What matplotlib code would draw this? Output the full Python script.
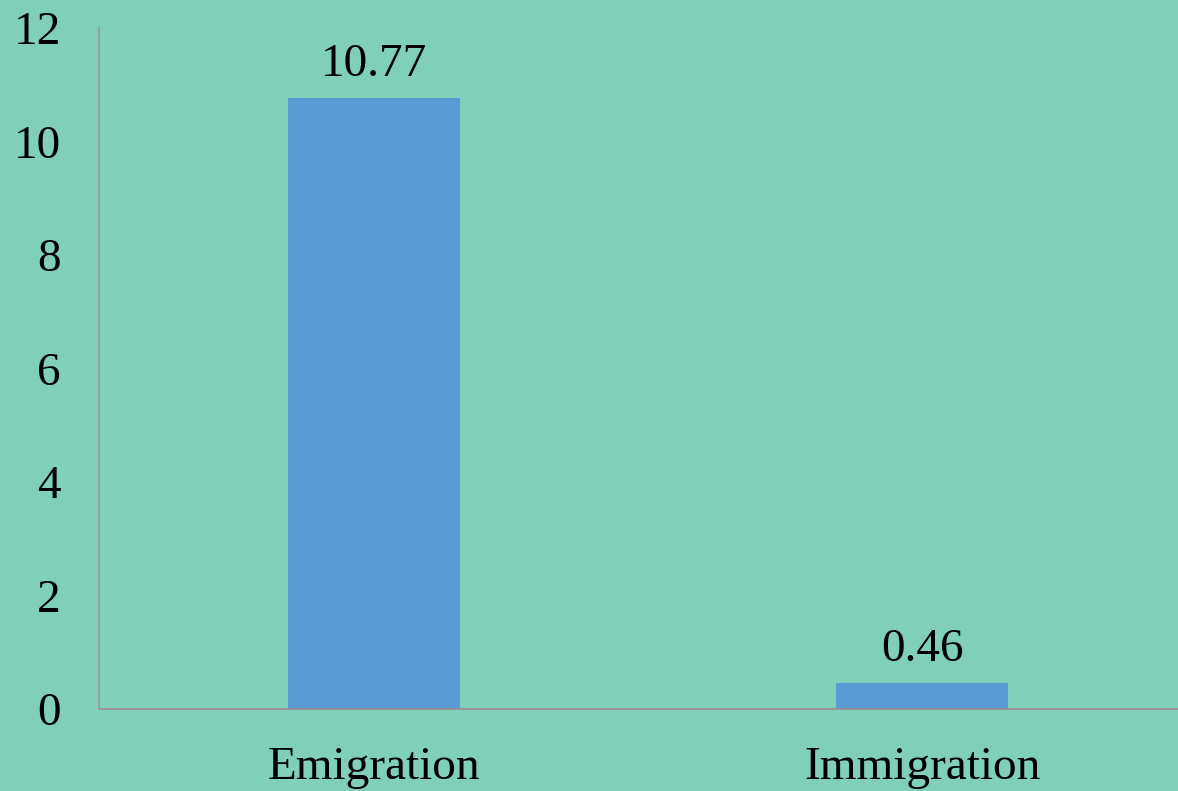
import matplotlib
matplotlib.use('Agg')
import matplotlib.pyplot as plt
import numpy as np

categories = ['Emigration', 'Immigration']
values = [10.77, 0.46]
value_labels = ['10.77', '0.46']
yticks = [0, 2, 4, 6, 8, 10, 12]

plt.rcParams['font.family'] = ['Liberation Serif', 'DejaVu Serif']

bg = '#80CFB9'
fig = plt.figure(figsize=(11.78, 7.91), dpi=100, facecolor=bg)
ax = fig.add_axes([99/1178, 82/791, 1 - 99/1178, 681/791])
ax.set_facecolor(bg)

x = np.arange(len(categories))
bars = ax.bar(x, values, width=0.314, color='#5B9BD5', zorder=2)

# value labels above the bars
for xi, v, lab in zip(x, values, value_labels):
	ax.annotate(lab, (xi, v), xytext=(0, 8.5), textcoords='offset points',
				ha='center', va='bottom', fontsize=34, color='black')

ax.set_xlim(-0.502, 1.467)
ax.set_ylim(0, 12)
ax.set_yticks(yticks)
ax.set_yticklabels([str(t) for t in yticks], fontsize=34)
ax.set_xticks(x)
ax.set_xticklabels(categories, fontsize=34)
ax.tick_params(axis='y', length=0, pad=27.5)
ax.tick_params(axis='x', length=0, pad=27)

for s in ['top', 'right']:
	ax.spines[s].set_visible(False)
ax.spines['left'].set_color('#999999')
ax.spines['bottom'].set_color('#A08A92')
ax.spines['left'].set_linewidth(1.2)
ax.spines['bottom'].set_linewidth(1.2)

fig.savefig('out.png', dpi=100, facecolor=bg)
